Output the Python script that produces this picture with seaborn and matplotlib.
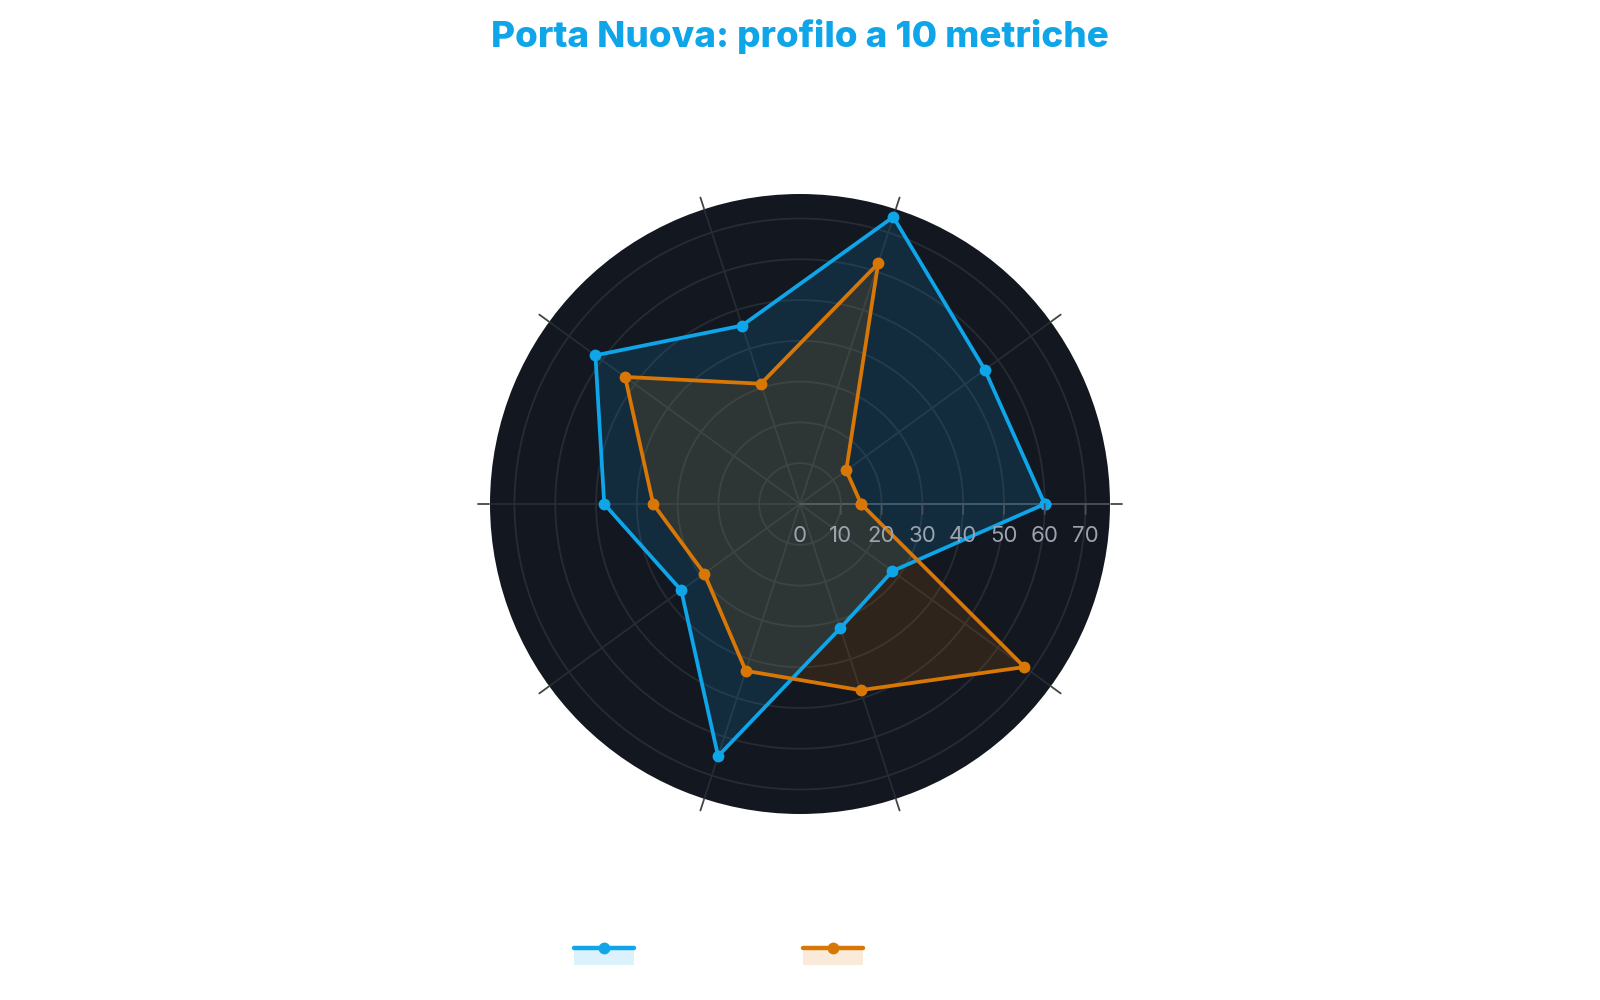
import numpy as np
import pandas as pd
import seaborn as sns
import matplotlib.pyplot as plt
from matplotlib.lines import Line2D
from matplotlib.patches import Rectangle
from matplotlib.legend_handler import HandlerBase

# Dati
angoli = [0, 36, 72, 108, 144, 180, 216, 252, 288, 324]
porta_nuova = [60, 56, 74, 46, 62, 48, 36, 65, 32, 28]
media_citta = [15, 14, 62, 31, 53, 36, 29, 43, 48, 68]
serie = ["Porta Nuova", "Media città"]
colori = ["#0ea5e9", "#d97706"]
tick_r = [0, 10, 20, 30, 40, 50, 60, 70]

sns.set_theme(style="white")
plt.rcParams["font.family"] = ["Inter", "DejaVu Sans"]

# tabella lunga, con il primo punto ripetuto per chiudere il poligono
righe = []
for nome, valori in zip(serie, [porta_nuova, media_citta]):
    for a, v in zip(angoli + [angoli[0]], valori + [valori[0]]):
        righe.append({"serie": nome, "theta": np.deg2rad(a), "r": v})
df = pd.DataFrame(righe)

fig = plt.figure(figsize=(16, 10), dpi=100)
ax = fig.add_axes([0.30625, 0.186, 0.3875, 0.62], projection="polar")
ax.set_facecolor("#131720")
ax.set_ylim(0, 76)

# griglia
ax.set_thetagrids(angoli, labels=[])
ax.set_rgrids(tick_r[1:], labels=[])
ax.grid(color="#272b33", linewidth=1.3)
ax.spines["polar"].set_visible(False)
ax.tick_params(axis="both", length=0)

# riempimenti
for nome, col, alfa in zip(serie, colori, [0.15, 0.14]):
    sub = df[df["serie"] == nome]
    ax.fill(sub["theta"], sub["r"], color=col, alpha=alfa, linewidth=0, zorder=2)

sns.lineplot(data=df, x="theta", y="r", hue="serie", palette=colori, sort=False,
             estimator=None, marker="o", markersize=8.5, markeredgewidth=0,
             linewidth=2.7, legend=False, ax=ax, zorder=3)
ax.set_xlabel("")
ax.set_ylabel("")

# asse radiale a 0 gradi, più chiaro, con tacche e etichette sotto
ax.plot([0, 0], [0, 76], color="#4b5058", linewidth=1.3, zorder=1.5)
for v in tick_r:
    ax.annotate(str(v), xy=(0, v), xytext=(0, -32), textcoords="offset pixels",
                ha="center", va="center", fontsize=16, color="#9ca3af", zorder=5)
    if v > 0:
        ax.annotate("", xy=(0, v), xytext=(0, -10), textcoords="offset pixels",
                    arrowprops=dict(arrowstyle="-", color="#4b5058", lw=1.3,
                                    shrinkA=0, shrinkB=0))

# tacche angolari esterne
for a in angoli:
    t = np.deg2rad(a)
    ax.plot([t, t], [76.2, 79], color="#444444", linewidth=1.3, clip_on=False)

fig.text(0.5, 0.963, "Porta Nuova: profilo a 10 metriche", fontsize=26.5,
         fontweight="heavy", color="#0ea5e9", ha="center", va="center")


class FillLineHandler(HandlerBase):
    def create_artists(self, legend, orig_handle, xdescent, ydescent, width,
                       height, fontsize, trans):
        c = orig_handle.get_color()
        y = height / 2 - ydescent
        rect = Rectangle((-xdescent, y - 12), width, 12,
                         facecolor=c, alpha=0.15, linewidth=0, transform=trans)
        line = Line2D([-xdescent, width - xdescent], [y, y], color=c, lw=3.2,
                      transform=trans)
        dot = Line2D([width / 2 - xdescent], [y], marker="o", color=c,
                     markersize=8.5, markeredgewidth=0, transform=trans)
        return [rect, line, dot]


handles = [Line2D([], [], color=c) for c in colori]
leg = fig.legend(handles, serie, loc="center left", bbox_to_anchor=(0.348, 0.052),
                 ncol=2, frameon=False, handler_map={Line2D: FillLineHandler()},
                 handlelength=3.05, handleheight=1.6, columnspacing=2.06,
                 fontsize=14, labelcolor="white")

fig.savefig("out.png", dpi=100, facecolor="white")
